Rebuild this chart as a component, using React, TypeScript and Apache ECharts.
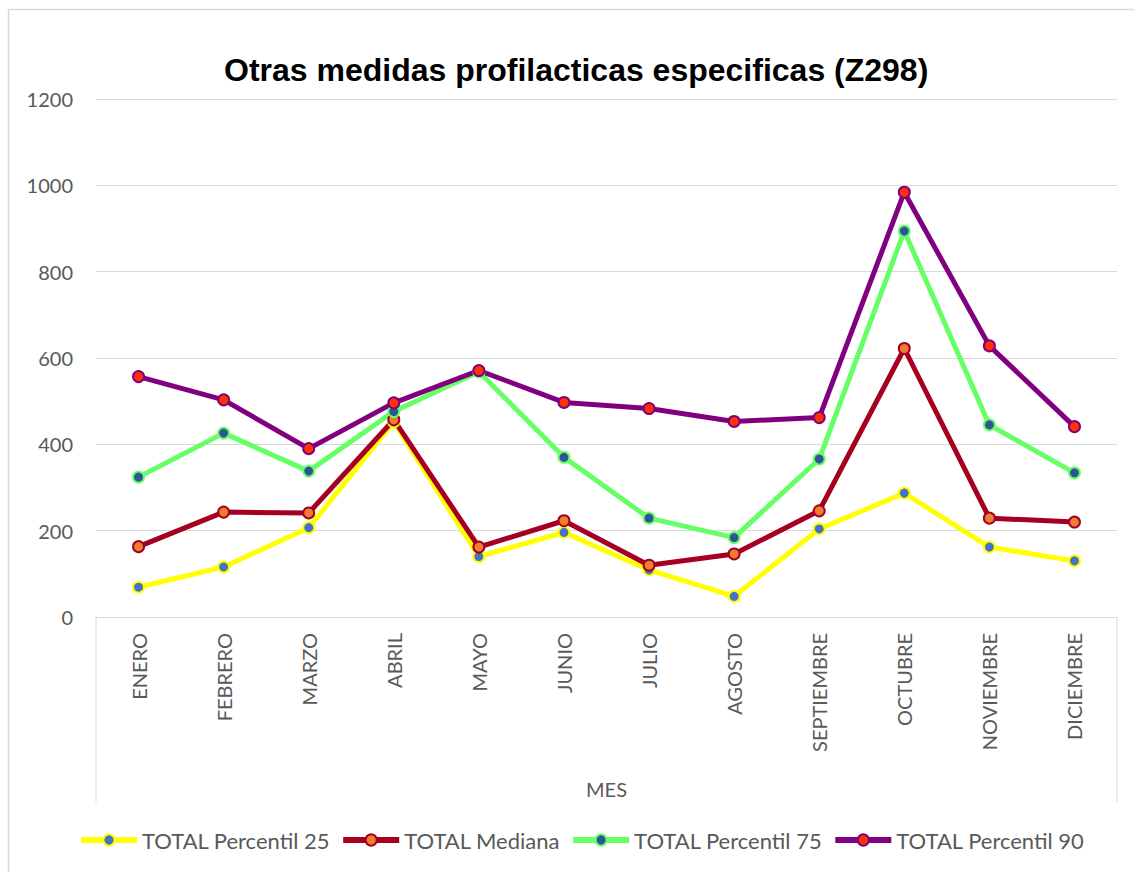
import React, { useEffect, useRef } from "react";
import * as echarts from "echarts";

const months = [
  "ENERO", "FEBRERO", "MARZO", "ABRIL", "MAYO", "JUNIO",
  "JULIO", "AGOSTO", "SEPTIEMBRE", "OCTUBRE", "NOVIEMBRE", "DICIEMBRE",
];
const percentil25 = [69, 116, 207, 452, 140, 196, 109, 48, 204, 287, 162, 130];
const mediana = [163, 243, 241, 457, 162, 223, 120, 146, 246, 622, 229, 220];
const percentil75 = [324, 426, 338, 476, 568, 370, 229, 184, 366, 894, 445, 334];
const percentil90 = [557, 503, 390, 496, 571, 497, 483, 453, 462, 984, 628, 441];
const seriesNames = ["TOTAL Percentil 25", "TOTAL Mediana", "TOTAL Percentil 75", "TOTAL Percentil 90"];
const yMax = 1200;
const yStep = 200;

const FONT = "Lato, 'Noto Sans', sans-serif";
const GREY_TEXT = "#595959";
const GRID_LINE = "#d9d9d9";

const styles = [
  { line: "#FFFF00", fill: "#4472C4" },
  { line: "#A50021", fill: "#ED7D31" },
  { line: "#66FF66", fill: "#2F5597" },
  { line: "#800080", fill: "#FF3300" },
];

export default function App() {
  const ref = useRef<HTMLDivElement>(null);
  useEffect(() => {
    document.body.style.margin = "0";
    if (!ref.current) return;
    const chart = echarts.init(ref.current, null, { renderer: "svg" });
    const data = [percentil25, mediana, percentil75, percentil90];
    chart.setOption({
      animation: false,
      backgroundColor: "#ffffff",
      title: {
        text: "Otras medidas profilacticas especificas (Z298)",
        left: 219,
        top: 49,
        textStyle: {
          fontFamily: "'Liberation Sans', Arial, sans-serif",
          fontWeight: "bold",
          fontSize: 32,
          color: "#000000",
        },
      },
      grid: { left: 96, right: 17, top: 99, bottom: 255, containLabel: false },
      xAxis: {
        type: "category",
        data: months,
        boundaryGap: true,
        axisLine: { show: true, lineStyle: { color: GRID_LINE, width: 1 } },
        axisTick: { show: false },
        axisLabel: {
          rotate: 90,
          margin: 16,
          fontSize: 20,
          color: GREY_TEXT,
          fontFamily: FONT,
          interval: 0,
        },
        name: "MES",
        nameLocation: "middle",
        nameGap: 162,
        nameTextStyle: { fontSize: 20, color: GREY_TEXT, fontFamily: FONT },
      },
      yAxis: {
        type: "value",
        min: 0,
        max: yMax,
        interval: yStep,
        axisLine: { show: false },
        axisTick: { show: false },
        splitLine: { lineStyle: { color: GRID_LINE, width: 1 } },
        axisLabel: {
          margin: 23,
          fontSize: 20,
          color: GREY_TEXT,
          fontFamily: FONT,
          formatter: (v: number) => String(v),
        },
      },
      legend: {
        data: seriesNames,
        left: 73,
        top: 824,
        itemWidth: 56,
        itemHeight: 14,
        itemGap: 10,
        lineStyle: { width: 6 },
        textStyle: { fontSize: 22, color: GREY_TEXT, fontFamily: FONT },
      },
      graphic: [
        { type: "line", shape: { x1: 96, y1: 617, x2: 96, y2: 802 }, style: { stroke: GRID_LINE, lineWidth: 1 } },
        { type: "line", shape: { x1: 1117, y1: 617, x2: 1117, y2: 802 }, style: { stroke: GRID_LINE, lineWidth: 1 } },
        { type: "line", shape: { x1: 8, y1: 9.5, x2: 1134, y2: 9.5 }, style: { stroke: GRID_LINE, lineWidth: 1.5 } },
        { type: "line", shape: { x1: 8.5, y1: 9, x2: 8.5, y2: 872 }, style: { stroke: GRID_LINE, lineWidth: 1.5 } },
      ],
      series: data.map((d, i) => ({
        name: seriesNames[i],
        type: "line",
        data: d,
        symbol: "circle",
        symbolSize: 11,
        showSymbol: true,
        lineStyle: { color: styles[i].line, width: 5 },
        itemStyle: { color: styles[i].fill, borderColor: styles[i].line, borderWidth: 2 },
        emphasis: { disabled: true },
      })),
    });
    return () => chart.dispose();
  }, []);
  return <div ref={ref} style={{ width: 1134, height: 872 }} />;
}
